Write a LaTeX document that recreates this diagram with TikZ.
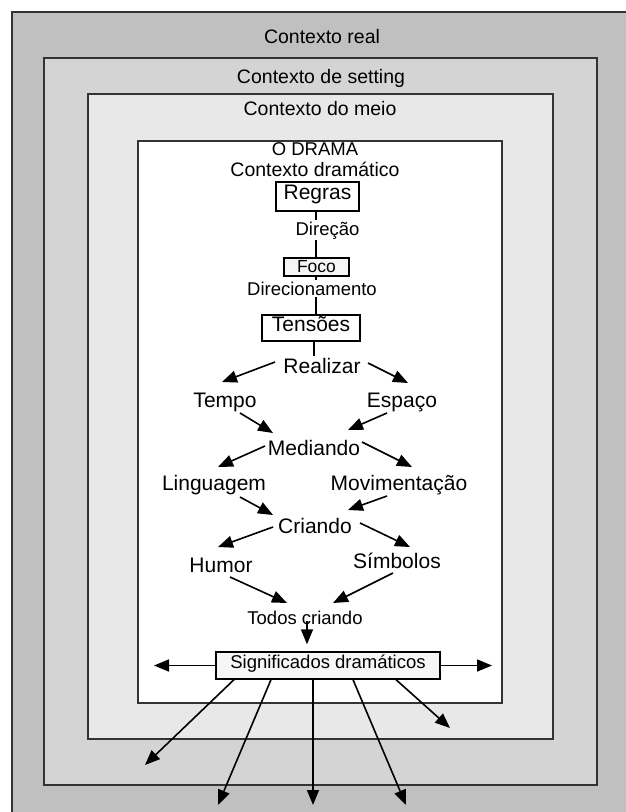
\documentclass[tikz,border=0pt]{standalone}
\usepackage{fontspec}
\setmainfont{Liberation Sans}
\usetikzlibrary{arrows.meta}
\definecolor{ctxA}{HTML}{C0C0C0}
\definecolor{ctxB}{HTML}{D4D4D4}
\definecolor{ctxC}{HTML}{E8E8E8}
\definecolor{edgegray}{HTML}{333333}
\definecolor{boxfill}{HTML}{F6F6F6}
\begin{document}
\begin{tikzpicture}[x=1pt,y=-1pt,
  frame/.style={draw=edgegray,line width=2pt},
  ctx/.style={font=\fontsize{19.5}{23}\selectfont,anchor=base,inner sep=0pt},
  big/.style={font=\fontsize{21}{25}\selectfont,anchor=base,inner sep=1.5pt,fill=white},
  small/.style={font=\fontsize{18.5}{22}\selectfont,anchor=base,inner sep=1.5pt},
  boxed/.style={draw=black,line width=1.3pt,inner sep=0pt,anchor=center,text height=0.72em,text depth=0.21em},
  arr/.style={line width=1.6pt,-{Triangle[length=15pt,width=12pt]}},
  link/.style={line width=1.4pt}
]
\useasboundingbox (0,0) rectangle (626,812);
\fill[white] (-20,-20) rectangle (12,850);
\fill[white] (-20,-20) rectangle (660,12);
% context frames
\draw[frame,fill=ctxA] (12,12) rectangle (680,870);
\draw[frame,fill=ctxB] (44,58) rectangle (597,785);
\draw[frame,fill=ctxC] (88,94) rectangle (553,739);
\draw[frame,fill=white] (138,141) rectangle (502,703);
% context labels
\node[ctx] (creal) at (322,43) {Contexto real};
\node[ctx] (csetting) at (321,83) {Contexto de setting};
\node[ctx] (cmeio) at (320,115) {Contexto do meio};
\node[ctx,font=\fontsize{18.5}{22}\selectfont] (drama) at (315,155) {O DRAMA};
\node[ctx] (cdram) at (315,176) {Contexto dramático};
% boxed items
\node[boxed,font=\fontsize{21}{25}\selectfont,fill=white,minimum width=83pt,minimum height=29pt] (regras) at (317.5,196.5) {Regras};
\node[boxed,font=\fontsize{17.5}{21}\selectfont,fill=boxfill,minimum width=65pt,minimum height=18pt,text height=12.5pt,text depth=1pt] (foco) at (316.5,267) {Foco};
\node[boxed,font=\fontsize{21}{25}\selectfont,fill=white,minimum width=98pt,minimum height=26pt,text depth=0pt] (tensoes) at (311,328) {Tensões};
\node[boxed,font=\fontsize{18.5}{22}\selectfont,fill=boxfill,minimum width=224pt,minimum height=27pt] (sig) at (328,665.5) {Significados dramáticos};
% vertical links
\draw[link] ([xshift=-1.5pt]regras.south) -- ([xshift=-1.5pt]regras.south |- foco.north);
\draw[link] ([xshift=-0.5pt]foco.south) -- ([xshift=-0.5pt]foco.south |- tensoes.north);
\node[small,fill=white] (direcao) at (327.5,235) {Direção};
\node[small,fill=white] (direc) at (312,295) {Direcionamento};
\node[big] (realizar) at (322,373) {Realizar};
\draw[link] ([xshift=3pt]tensoes.south) -- ([xshift=3pt]tensoes.south |- realizar.north);
% flow labels
\node[big] (tempo) at (225,407) {Tempo};
\node[big] (espaco) at (402,407) {Espaço};
\node[big] (mediando) at (314,455) {Mediando};
\node[big] (linguagem) at (214,490) {Linguagem};
\node[big] (movim) at (399,490) {Movimentação};
\node[big] (criando) at (315,533) {Criando};
\node[big] (humor) at (221,572) {Humor};
\node[big] (simbolos) at (397,568) {Símbolos};
\node[small] (todos) at (305,624) {Todos criando};
% flow arrows
\draw[arr] ([shift={(-47,-11)}]realizar.base) -- ([shift={(-3,-25)}]tempo.base);
\draw[arr] ([shift={(46,-10)}]realizar.base) -- ([shift={(6,-24)}]espaco.base);
\draw[arr] ([shift={(15,6)}]tempo.base) -- ([shift={(-41,-22)}]mediando.base);
\draw[arr] ([shift={(-15,6)}]espaco.base) -- ([shift={(34,-25)}]mediando.base);
\draw[arr] ([shift={(-49,-9)}]mediando.base) -- ([shift={(4,-23)}]linguagem.base);
\draw[arr] ([shift={(48,-13)}]mediando.base) -- ([shift={(13,-23)}]movim.base);
\draw[arr] ([shift={(26,7)}]linguagem.base) -- ([shift={(-42,-18)}]criando.base);
\draw[arr] ([shift={(-12,6)}]movim.base) -- ([shift={(33,-23)}]criando.base);
\draw[arr] ([shift={(-42,-6)}]criando.base) -- ([shift={(-3,-25)}]humor.base);
\draw[arr] ([shift={(45,-10)}]criando.base) -- ([shift={(13,-21)}]simbolos.base);
\draw[arr] ([shift={(9,5)}]humor.base) -- ([shift={(-18,-21)}]todos.base);
\draw[arr] ([shift={(-4,5)}]simbolos.base) -- ([shift={(28,-21)}]todos.base);
\draw[arr] ([shift={(2,-3)}]todos.base) -- ([shift={(-21,-7)}]sig.north);
% outward arrows
\coordinate (tl) at (154,665.5);
\coordinate (tr) at (492,665.5);
\coordinate (t1) at (145,765);
\coordinate (t2) at (218,805);
\coordinate (t3) at (313,805);
\coordinate (t4) at (406,805);
\coordinate (t5) at (450,728);
\draw[arr] (sig.west) -- (tl);
\draw[arr] (sig.east) -- (tr);
\draw[arr] ([shift={(-94,0)}]sig.south) -- (t1);
\draw[arr] ([shift={(-57,0)}]sig.south) -- (t2);
\draw[arr] ([shift={(-15,0)}]sig.south) -- (t3);
\draw[arr] ([shift={(25,0)}]sig.south) -- (t4);
\draw[arr] ([shift={(68,0)}]sig.south) -- (t5);
\end{tikzpicture}
\end{document}
